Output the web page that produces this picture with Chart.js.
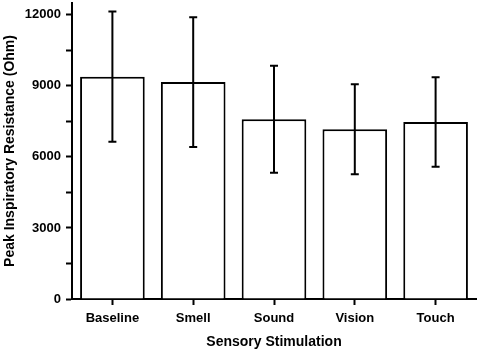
<!DOCTYPE html>
<html lang="en">
<head>
  <meta charset="UTF-8">
  <title>Peak Inspiratory Resistance</title>
  <script src="https://cdn.jsdelivr.net/npm/chart.js"></script>
  <style>
    body {
      margin: 0;
      background: white;
    }
    .chart-container {
      width: 480px;
      height: 354px;
    }
  </style>
</head>
<body>
  <div class="chart-container">
    <canvas id="resistanceChart" width="480" height="354"></canvas>
  </div>

  <script>
    const categories = ['Baseline', 'Smell', 'Sound', 'Vision', 'Touch'];
    const meanValues = [9390, 9160, 7590, 7170, 7470];
    const errorValues = [2750, 2740, 2260, 1900, 1890];
    const yTicks = [0, 3000, 6000, 9000, 12000];

    const fontFamily = "Arial, 'Liberation Sans', sans-serif";

    // draws the +/- error bars on top of the bars
    const errorBars = {
      id: 'errorBars',
      afterDatasetsDraw(chart) {
        const ctx = chart.ctx;
        const y = chart.scales.y;
        const meta = chart.getDatasetMeta(0);
        ctx.save();
        ctx.strokeStyle = '#000';
        ctx.lineWidth = 2;
        meta.data.forEach((bar, i) => {
          const top = y.getPixelForValue(meanValues[i] + errorValues[i]);
          const bottom = y.getPixelForValue(meanValues[i] - errorValues[i]);
          ctx.beginPath();
          ctx.moveTo(bar.x, top);
          ctx.lineTo(bar.x, bottom);
          ctx.moveTo(bar.x - 4, top);
          ctx.lineTo(bar.x + 4, top);
          ctx.moveTo(bar.x - 4, bottom);
          ctx.lineTo(bar.x + 4, bottom);
          ctx.stroke();
        });
        ctx.restore();
      }
    };

    new Chart(document.getElementById('resistanceChart'), {
      type: 'bar',
      data: {
        labels: categories,
        datasets: [{
          data: meanValues,
          backgroundColor: '#fff',
          borderColor: '#000',
          borderWidth: 2,
          barPercentage: 0.8,
          categoryPercentage: 1
        }]
      },
      options: {
        responsive: false,
        animation: false,
        layout: { padding: { left: 0, right: 4, top: 3, bottom: 0 } },
        plugins: {
          legend: { display: false },
          tooltip: { enabled: false }
        },
        scales: {
          y: {
            min: 0,
            max: 12500,
            afterFit(scale) {
              scale.width = 72;
              scale.paddingTop = 0;
              scale.paddingBottom = 0;
            },
            afterBuildTicks(scale) {
              const t = [];
              for (let v = 0; v <= 12000; v += 1500) t.push({ value: v });
              scale.ticks = t;
            },
            border: { color: '#000', width: 2 },
            grid: { drawOnChartArea: false, tickLength: 6, tickColor: '#000', tickWidth: 2 },
            ticks: {
              color: '#000',
              padding: 5,
              font: { family: fontFamily, size: 13, weight: 'bold' },
              callback: v => yTicks.includes(v) ? v : ''
            },
            title: {
              display: true,
              text: 'Peak Inspiratory Resistance (Ohm)',
              color: '#000',
              padding: { top: 2, bottom: 0 },
              font: { family: fontFamily, size: 14, weight: 'bold' }
            }
          },
          x: {
            afterFit(scale) { scale.height = 55; },
            border: { color: '#000', width: 2 },
            grid: { offset: false, drawOnChartArea: false, tickLength: 6, tickColor: '#000', tickWidth: 2 },
            ticks: {
              color: '#000',
              padding: 6,
              font: { family: fontFamily, size: 13, weight: 'bold' }
            },
            title: {
              display: true,
              text: 'Sensory Stimulation',
              color: '#000',
              padding: { top: 0, bottom: 3 },
              font: { family: fontFamily, size: 14, weight: 'bold' }
            }
          }
        }
      },
      plugins: [errorBars]
    });
  </script>
</body>
</html>
